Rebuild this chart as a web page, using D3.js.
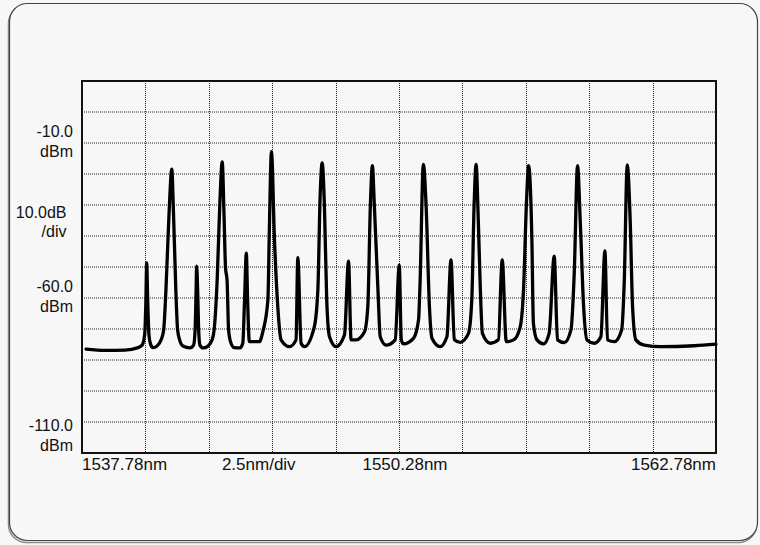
<!DOCTYPE html>
<html><head><meta charset="utf-8">
<script src="https://cdn.jsdelivr.net/npm/d3@7"></script>
<style>html,body{margin:0;padding:0;background:#f7f7f7;} svg{display:block;}</style>
</head><body>
<svg id="c" width="760" height="545"></svg>
<script>
// Trace (wavelength nm, power dBm)
const wavelength = [
1537.94,1538.69,1539.48,1539.99,1540.15,1540.25,1540.30,1540.33,1540.37,1540.42,1540.48,1540.58,1540.74,1540.90,1541.00,1541.09,1541.21,1541.32,1541.39,1541.48,1541.55,1541.63,1541.76,1542.04,1542.18,1542.24,1542.28,1542.30,1542.34,1542.38,1542.43,1542.55,1542.75,1542.91,1542.99,1543.11,1543.22,1543.31,1543.38,1543.44,1543.50,1543.56,1543.64,1543.78,1544.01,
1544.12,1544.19,1544.26,1544.31,1544.38,1544.77,1544.91,1545.11,1545.17,1545.25,1545.37,1545.50,1545.63,1545.96,1546.22,1546.29,1546.42,1546.55,1546.94,1547.08,1547.17,1547.25,1547.34,1547.43,1547.54,1547.80,1548.13,1548.29,1548.39,1548.59,1548.92,1549.05,1549.15,1549.23,1549.31,1549.45,1549.54,1549.77,
1550.13,1550.29,1550.37,1550.46,1550.85,1551.05,1551.11,1551.24,1551.35,1551.48,1551.58,1551.90,1552.17,1552.33,1552.46,1552.69,1553.02,1553.15,1553.24,1553.32,1553.41,1553.48,1553.57,1553.88,1554.20,1554.35,1554.51,1554.80,1555.06,1555.19,1555.31,1555.39,1555.52,1555.58,1555.72,1555.98,
1556.20,1556.40,1556.53,1556.80,1557.06,1557.19,1557.32,1557.43,1557.56,1557.69,1557.98,1558.24,1558.40,1558.50,1558.77,1559.06,1559.16,1559.28,1559.40,1559.49,1559.62,1559.95,1560.61,1561.92,1562.78
];
const power = [
-76.5,-76.9,-76.8,-76.0,-75.2,-71.9,-60.6,-48.7,-60.6,-71.9,-74.8,-76.0,-75.5,-73.5,-70.3,-57.4,-33.2,-18.4,-33.2,-57.4,-70.3,-73.5,-75.5,-76.1,-75.2,-70.3,-57.4,-49.7,-57.4,-70.3,-75.2,-76.1,-75.5,-73.5,-70.3,-54.2,-28.4,-16.1,-33.2,-50.3,-54.2,-70.3,-74.2,-76.0,-76.1,
-74.6,-60.6,-45.5,-60.6,-74.1,-74.1,-70.9,-60.6,-37.0,-12.8,-41.3,-62.8,-73.5,-75.7,-73.5,-47.0,-74.6,-75.7,-69.3,-57.4,-27.3,-16.4,-30.5,-60.6,-72.5,-75.7,-71.9,-48.1,-73.5,-73.5,-70.9,-62.8,-30.5,-17.3,-30.5,-57.4,-72.5,-75.2,
-73.5,-49.4,-73.5,-74.8,-73.0,-67.1,-55.3,-16.9,-30.5,-62.8,-73.0,-75.7,-72.5,-47.7,-73.5,-74.3,-71.4,-60.6,-30.5,-16.9,-35.9,-55.3,-71.4,-74.6,-73.5,-47.7,-74.1,-73.5,-69.3,-57.4,-28.4,-17.3,-41.3,-68.2,-73.5,-74.8,
-71.4,-46.5,-73.5,-74.4,-70.3,-52.0,-17.3,-35.9,-62.8,-73.5,-74.6,-72.5,-44.8,-73.5,-74.1,-70.3,-55.3,-17.1,-35.9,-62.8,-73.5,-75.2,-75.7,-75.4,-74.9
];
const xDomain = [1537.78, 1562.78];
const yDomain = [-110, 10];
const xGridValues = [1537.78,1540.28,1542.78,1545.28,1547.78,1550.28,1552.78,1555.28,1557.78,1560.28,1562.78];
const yGridValues = [10,0,-10,-20,-30,-40,-50,-60,-70,-80,-90,-100,-110];
const yLabelValues = [-10, -36, -60, -110];
const yLabelLines = [["-10.0","dBm"],["10.0dB","/div"],["-60.0","dBm"],["-110.0","dBm"]];
const xLabelValues = [1537.78, 1544.75, 1550.28, 1562.78];
const xLabelTexts = ["1537.78nm","2.5nm/div","1550.28nm","1562.78nm"];

const svg = d3.select("#c");
const L = 82, R = 716, T = 81, B = 453;
const x = d3.scaleLinear().domain(xDomain).range([L, R]);
const y = d3.scaleLinear().domain(yDomain).range([B, T]);

// outer rounded frame with shadow
svg.append("rect").attr("x", 8.5).attr("y", 5.5).attr("width", 748).attr("height", 537)
  .attr("rx", 18).attr("fill", "none").attr("stroke", "#8a8a8a").attr("stroke-width", 1.5);
svg.append("rect").attr("x", 9.5).attr("y", 3.5).attr("width", 748).attr("height", 537)
  .attr("rx", 18).attr("fill", "#f7f7f7").attr("stroke", "#444").attr("stroke-width", 1.2);

// grid
const g = svg.append("g");
g.selectAll("line.h").data(yGridValues.slice(1, -1)).join("line").attr("class","h")
  .attr("x1", L).attr("x2", R).attr("y1", d => y(d)).attr("y2", d => y(d))
  .attr("stroke", "#222").attr("stroke-width", 1).attr("stroke-dasharray", "1,1");
g.selectAll("line.v").data(xGridValues.slice(1, -1)).join("line").attr("class","v")
  .attr("y1", T).attr("y2", B).attr("x1", d => Math.round(x(d)) + 0.5).attr("x2", d => Math.round(x(d)) + 0.5)
  .attr("stroke", "#222").attr("stroke-width", 1).attr("stroke-dasharray", "1,1");

// plot frame
svg.append("rect").attr("x", L).attr("y", T).attr("width", R - L).attr("height", B - T)
  .attr("fill", "none").attr("stroke", "#111").attr("stroke-width", 2);

// trace
const pts = wavelength.map((w, i) => [w, power[i]]);
svg.append("path").datum(pts)
  .attr("d", d3.line().x(d => x(d[0])).y(d => y(d[1])).curve(d3.curveMonotoneX))
  .attr("fill", "none").attr("stroke", "#000").attr("stroke-width", 3.3)
  .attr("stroke-linejoin", "round").attr("stroke-linecap", "round");

// y labels
const font = "'Liberation Sans', Arial, Helvetica, sans-serif";
yLabelValues.forEach((v, i) => {
  const lines = yLabelLines[i];
  let base = y(v) - 6;
  if (base + 19 > B) base = B - 22;
  const ax = (i === 1) ? 66.5 : 73;
  lines.forEach((t, j) => {
    svg.append("text").attr("x", ax).attr("y", base + j * 19.5)
      .attr("text-anchor", "end").attr("font-family", font).attr("font-size", 16)
      .attr("fill", "#111").text(t);
  });
});

// x labels
xLabelValues.forEach((v, i) => {
  const anchor = i === 0 ? "start" : (i === xLabelValues.length - 1 ? "end" : "middle");
  const dx = i === 2 ? 6 : 0;
  svg.append("text").attr("x", x(v) + dx).attr("y", 470)
    .attr("text-anchor", anchor).attr("font-family", font).attr("font-size", 17)
    .attr("fill", "#111").text(xLabelTexts[i]);
});
</script>
</body></html>
